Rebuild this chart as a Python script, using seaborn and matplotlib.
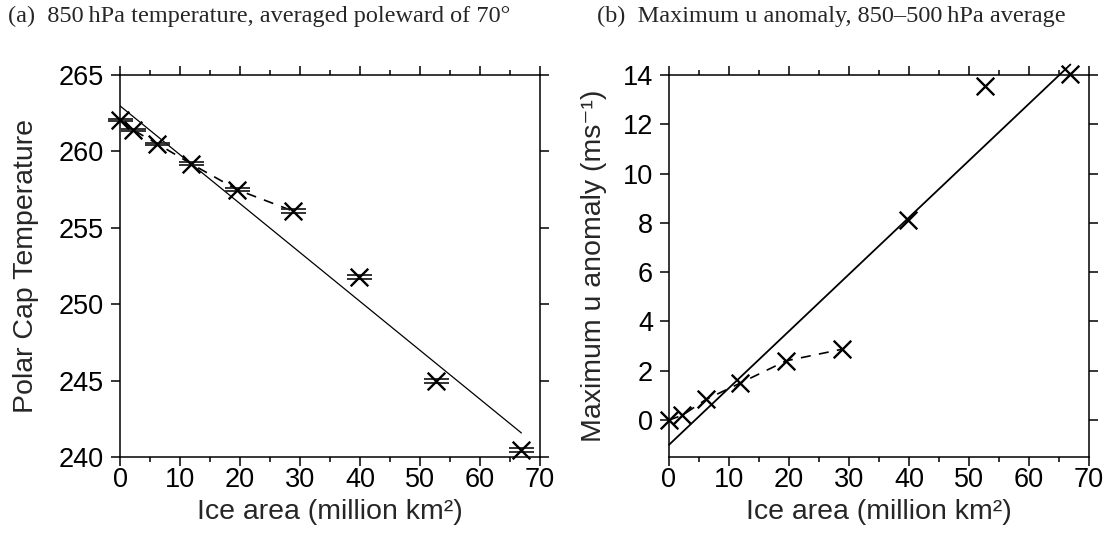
import numpy as np
import pandas as pd
import seaborn as sns
import matplotlib
matplotlib.use("Agg")
import matplotlib.pyplot as plt

# Ice area for each experiment (million km^2)
ice_area = [0.0, 2.2, 6.2, 11.8, 19.5, 28.8, 39.9, 52.6, 66.9]
# 850 hPa polar cap temperature (K) and its spread
polar_temp = [262.05, 261.4, 260.5, 259.2, 257.5, 256.1, 251.75, 244.95, 240.45]
polar_temp_err = [0.05, 0.06, 0.08, 0.08, 0.1, 0.1, 0.13, 0.13, 0.13]
# Maximum u anomaly, 850-500 hPa average (m/s)
max_u = [0.0, 0.19, 0.84, 1.49, 2.40, 2.87, 8.13, 13.55, 14.05]
# Number of leading experiments joined by the dashed line
n_joined = 6

x_ticks = [0, 10, 20, 30, 40, 50, 60, 70]
temp_ticks = [240, 245, 250, 255, 260, 265]
u_ticks = [0, 2, 4, 6, 8, 10, 12, 14]

titles = ["(a)  850\u2009hPa temperature, averaged poleward of 70\u00b0",
          "(b)  Maximum u anomaly, 850\u2013500\u2009hPa average"]
x_label = "Ice area (million km\u00b2)"
y_labels = ["Polar Cap Temperature", "Maximum u anomaly (ms\u207b\u00b9)"]

df = pd.DataFrame({"ice": ice_area, "temp": polar_temp,
                   "terr": polar_temp_err, "u": max_u})
df_joined = df.iloc[:n_joined]

sns.set_theme(style="ticks")
plt.rcParams["font.family"] = ["Liberation Sans", "DejaVu Sans"]
plt.rcParams["axes.linewidth"] = 1.1

fig = plt.figure(figsize=(11.16, 5.34), dpi=100)
ax_a = fig.add_axes([120 / 1116, 77 / 534, 420 / 1116, 382 / 534])
ax_b = fig.add_axes([669 / 1116, 77 / 534, 420 / 1116, 382 / 534])

tick_fs = 19.5
label_fs = 20.5
title_font = ["Liberation Serif", "DejaVu Serif"]

def style_axes(ax, yticks, ylim):
    ax.set_xlim(0, 70)
    ax.set_ylim(*ylim)
    ax.set_xticks(x_ticks)
    ax.set_xticks(np.arange(5, 70, 10), minor=True)
    ax.set_yticks(yticks)
    ax.tick_params(which="both", direction="out", top=True, right=True,
                   labelsize=tick_fs, width=1.1, colors="black")
    ax.tick_params(axis="x", pad=1)
    ax.tick_params(axis="y", pad=5)
    ax.tick_params(which="major", length=6.5)
    ax.tick_params(which="minor", length=3.5)
    for s in ax.spines.values():
        s.set_visible(True)
        s.set_color("black")
    ax.set_xlabel(x_label, fontsize=label_fs, labelpad=4)

# (a) polar cap temperature
sns.lineplot(data=df_joined, x="ice", y="temp", ax=ax_a, color="black",
             lw=1.2, dashes=False, linestyle=(0, (6, 5)), sort=False)
sns.regplot(data=df, x="ice", y="temp", ax=ax_a, scatter=False, ci=None,
            truncate=True, line_kws={"color": "black", "lw": 0.9})
ax_a.errorbar(df["ice"], df["temp"], yerr=df["terr"], fmt="none",
              ecolor="#222222", elinewidth=1.0, capsize=9, capthick=1.3,
              clip_on=False, zorder=3)
sns.scatterplot(data=df, x="ice", y="temp", ax=ax_a, marker="x", s=160,
                color="black", linewidth=1.7, clip_on=False, zorder=4)
style_axes(ax_a, temp_ticks, (240, 265))
ax_a.set_ylabel(y_labels[0], fontsize=label_fs, labelpad=14)

# (b) maximum u anomaly
sns.lineplot(data=df_joined, x="ice", y="u", ax=ax_b, color="black",
             lw=1.2, dashes=False, linestyle=(0, (6, 5)), sort=False)
sns.regplot(data=df, x="ice", y="u", ax=ax_b, scatter=False, ci=None,
            truncate=True, line_kws={"color": "black", "lw": 1.3,
                                     "clip_on": False})
sns.scatterplot(data=df, x="ice", y="u", ax=ax_b, marker="x", s=160,
                color="black", linewidth=1.7, clip_on=False, zorder=4)
style_axes(ax_b, u_ticks, (-1.5, 14))
ax_b.set_ylabel(y_labels[1], fontsize=label_fs, labelpad=11)

fig.text(8 / 1116, 1 - 16 / 534, titles[0], family=title_font, fontsize=17.5,
         ha="left", va="center")
fig.text(597 / 1116, 1 - 16 / 534, titles[1], family=title_font, fontsize=17.5,
         ha="left", va="center")

fig.savefig("out.png", dpi=100)
